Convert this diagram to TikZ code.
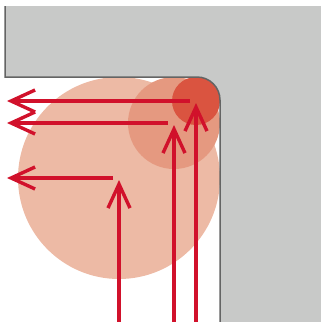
\documentclass[tikz,border=0pt]{standalone}
\usetikzlibrary{arrows.meta}
\definecolor{wallgrey}{RGB}{200,201,200}
\definecolor{wallline}{RGB}{100,100,100}
\definecolor{cbig}{RGB}{237,186,165}
\definecolor{cmid}{RGB}{229,153,128}
\definecolor{csmall}{RGB}{218,84,64}
\definecolor{arrred}{RGB}{209,17,43}
\tikzset{
  ray/.style={draw=arrred,line width=3.4pt,-{Straight Barb[length=24pt,width=22pt,line width=3.4pt]}},
}
\begin{document}
\begin{tikzpicture}[x=1pt,y=-1pt]
\useasboundingbox (0,0) rectangle (321,322);
% wall
\fill[wallgrey] (5,6) -- (321,6) -- (321,322) -- (220,322) -- (220,100) arc[start angle=0,end angle=-90,radius=23] -- (5,77) -- cycle;
% circles
\fill[cbig] (119,178) circle[radius=101];
\fill[cmid] (174,123) circle[radius=46];
\fill[csmall] (196,101) circle[radius=24];
% wall outline
\draw[wallline,line width=1.5pt] (5,6) -- (5,77) -- (197,77) arc[start angle=-90,end angle=0,radius=23] -- (220,322);
% coordinates
\coordinate (hs1) at (190,101); \coordinate (he1) at (7,101);
\coordinate (hs2) at (168,123); \coordinate (he2) at (7,123);
\coordinate (hs3) at (113,178); \coordinate (he3) at (7,178);
\coordinate (vs1) at (119,322); \coordinate (ve1) at (119,180);
\coordinate (vs2) at (174,322); \coordinate (ve2) at (174,125);
\coordinate (vs3) at (196,322); \coordinate (ve3) at (196,103);
\draw[ray] (hs1) -- (he1);
\draw[ray] (hs2) -- (he2);
\draw[ray] (hs3) -- (he3);
\draw[ray] (vs1) -- (ve1);
\draw[ray] (vs2) -- (ve2);
\draw[ray] (vs3) -- (ve3);
\end{tikzpicture}
\end{document}
